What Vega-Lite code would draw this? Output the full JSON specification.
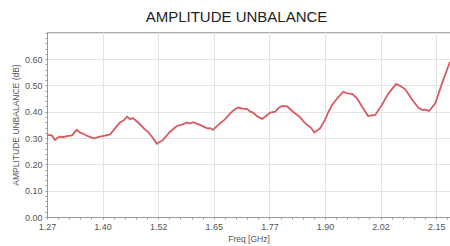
{
  "$schema": "https://vega.github.io/schema/vega-lite/v6.json",
  "width": 403,
  "height": 185,
  "autosize": {"type": "none"},
  "padding": {"left": 47, "top": 32, "right": 0, "bottom": 29},
  "background": "white",
  "title": {
    "text": "AMPLITUDE UNBALANCE",
    "font": "Liberation Sans",
    "fontSize": 15,
    "fontWeight": "normal",
    "color": "#222",
    "offset": 4,
    "dx": -12
  },
  "config": {
    "view": {"stroke": "#aaa", "strokeWidth": 1},
    "axis": {
      "labelFont": "Liberation Sans",
      "titleFont": "Liberation Sans",
      "labelFontSize": 9,
      "titleFontSize": 8.5,
      "titleFontWeight": "normal",
      "labelColor": "#555",
      "titleColor": "#555",
      "domainColor": "#999",
      "tickColor": "#999",
      "gridColor": "#e4e4e4"
    }
  },
  "data": {
    "values": [
      {"f": 1.275, "v": 0.312},
      {"f": 1.286, "v": 0.310},
      {"f": 1.293, "v": 0.293},
      {"f": 1.298, "v": 0.300},
      {"f": 1.304, "v": 0.305},
      {"f": 1.312, "v": 0.304},
      {"f": 1.320, "v": 0.307},
      {"f": 1.331, "v": 0.310},
      {"f": 1.342, "v": 0.331},
      {"f": 1.348, "v": 0.322},
      {"f": 1.354, "v": 0.318},
      {"f": 1.367, "v": 0.307},
      {"f": 1.381, "v": 0.298},
      {"f": 1.388, "v": 0.303},
      {"f": 1.394, "v": 0.305},
      {"f": 1.405, "v": 0.309},
      {"f": 1.417, "v": 0.314},
      {"f": 1.428, "v": 0.337},
      {"f": 1.439, "v": 0.359},
      {"f": 1.448, "v": 0.368},
      {"f": 1.455, "v": 0.381},
      {"f": 1.462, "v": 0.372},
      {"f": 1.468, "v": 0.376},
      {"f": 1.480, "v": 0.359},
      {"f": 1.495, "v": 0.333},
      {"f": 1.503, "v": 0.322},
      {"f": 1.511, "v": 0.305},
      {"f": 1.522, "v": 0.278},
      {"f": 1.536, "v": 0.293},
      {"f": 1.552, "v": 0.325},
      {"f": 1.567, "v": 0.346},
      {"f": 1.580, "v": 0.352},
      {"f": 1.590, "v": 0.359},
      {"f": 1.597, "v": 0.355},
      {"f": 1.603, "v": 0.360},
      {"f": 1.619, "v": 0.350},
      {"f": 1.635, "v": 0.337},
      {"f": 1.642, "v": 0.338},
      {"f": 1.648, "v": 0.331},
      {"f": 1.660, "v": 0.350},
      {"f": 1.675, "v": 0.371},
      {"f": 1.687, "v": 0.394},
      {"f": 1.696, "v": 0.408},
      {"f": 1.705, "v": 0.416},
      {"f": 1.715, "v": 0.412},
      {"f": 1.725, "v": 0.410},
      {"f": 1.732, "v": 0.400},
      {"f": 1.738, "v": 0.397},
      {"f": 1.748, "v": 0.382},
      {"f": 1.759, "v": 0.373},
      {"f": 1.768, "v": 0.385},
      {"f": 1.777, "v": 0.397},
      {"f": 1.788, "v": 0.400},
      {"f": 1.796, "v": 0.415},
      {"f": 1.804, "v": 0.422},
      {"f": 1.815, "v": 0.420},
      {"f": 1.828, "v": 0.400},
      {"f": 1.844, "v": 0.379},
      {"f": 1.852, "v": 0.362},
      {"f": 1.860, "v": 0.350},
      {"f": 1.868, "v": 0.340},
      {"f": 1.876, "v": 0.321},
      {"f": 1.883, "v": 0.330},
      {"f": 1.889, "v": 0.337},
      {"f": 1.900, "v": 0.369},
      {"f": 1.908, "v": 0.400},
      {"f": 1.916, "v": 0.426},
      {"f": 1.928, "v": 0.452},
      {"f": 1.941, "v": 0.476},
      {"f": 1.950, "v": 0.470},
      {"f": 1.961, "v": 0.468},
      {"f": 1.972, "v": 0.451},
      {"f": 1.983, "v": 0.420},
      {"f": 1.997, "v": 0.384},
      {"f": 2.013, "v": 0.388},
      {"f": 2.028, "v": 0.426},
      {"f": 2.042, "v": 0.468},
      {"f": 2.060, "v": 0.506},
      {"f": 2.070, "v": 0.497},
      {"f": 2.080, "v": 0.486},
      {"f": 2.098, "v": 0.441},
      {"f": 2.110, "v": 0.415},
      {"f": 2.118, "v": 0.407},
      {"f": 2.126, "v": 0.408},
      {"f": 2.134, "v": 0.403},
      {"f": 2.148, "v": 0.432},
      {"f": 2.163, "v": 0.508},
      {"f": 2.181, "v": 0.590}
    ]
  },
  "mark": {"type": "line", "color": "#d65a60", "strokeWidth": 1.8, "clip": true},
  "encoding": {
    "x": {
      "field": "f",
      "type": "quantitative",
      "title": "Freq [GHz]",
      "scale": {"domain": [1.275, 2.181], "nice": false, "zero": false},
      "axis": {
        "values": [1.275, 1.3, 1.325, 1.35, 1.375, 1.4, 1.425, 1.45, 1.475, 1.5, 1.525, 1.55, 1.575, 1.6, 1.625, 1.65, 1.675, 1.7, 1.725, 1.75, 1.775, 1.8, 1.825, 1.85, 1.875, 1.9, 1.925, 1.95, 1.975, 2.0, 2.025, 2.05, 2.075, 2.1, 2.125, 2.15, 2.175],
        "labelExpr": "abs((datum.value-1.275)/0.125 - round((datum.value-1.275)/0.125)) < 0.01 ? format(datum.value, '.2f') : ''",
        "gridOpacity": {"condition": {"test": "abs((datum.value-1.275)/0.125 - round((datum.value-1.275)/0.125)) < 0.01", "value": 1}, "value": 0},
        "tickSize": 2,
        "labelPadding": 3,
        "titlePadding": 3,
        "labelFlush": false,
        "labelOverlap": false
      }
    },
    "y": {
      "field": "v",
      "type": "quantitative",
      "title": "AMPLITUDE UNBALANCE (dB)",
      "scale": {"domain": [0, 0.703], "nice": false},
      "axis": {
        "values": [0, 0.02, 0.04, 0.06, 0.08, 0.1, 0.12, 0.14, 0.16, 0.18, 0.2, 0.22, 0.24, 0.26, 0.28, 0.3, 0.32, 0.34, 0.36, 0.38, 0.4, 0.42, 0.44, 0.46, 0.48, 0.5, 0.52, 0.54, 0.56, 0.58, 0.6, 0.62, 0.64, 0.66, 0.68, 0.7],
        "labelExpr": "abs(datum.value*10 - round(datum.value*10)) < 0.01 && datum.value < 0.65 ? format(datum.value, '.2f') : ''",
        "gridOpacity": {"condition": {"test": "abs(datum.value*10 - round(datum.value*10)) < 0.01", "value": 1}, "value": 0},
        "tickSize": 2,
        "labelPadding": 3,
        "titlePadding": 4,
        "labelFlush": false,
        "labelOverlap": false
      }
    }
  }
}
